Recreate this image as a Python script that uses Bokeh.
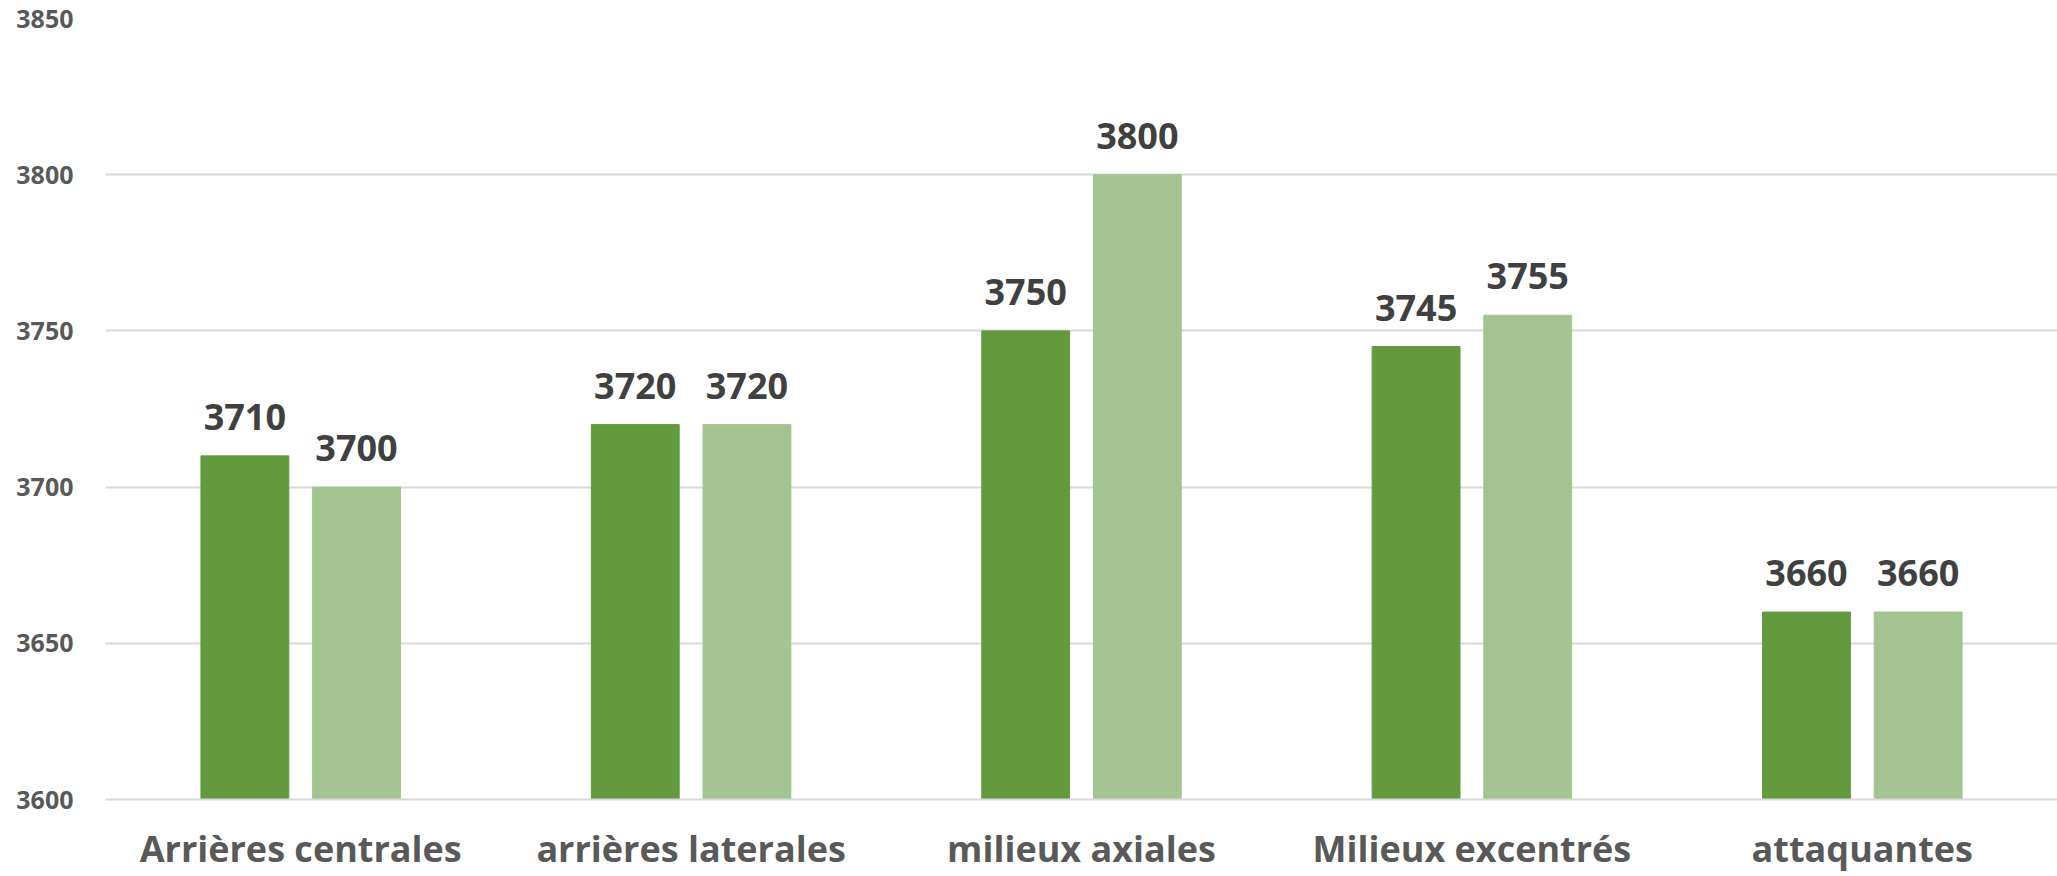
from bokeh.plotting import figure
from bokeh.models import ColumnDataSource, FactorRange, Range1d
from bokeh.transform import dodge
from bokeh.core.properties import value
from bokeh.embed import file_html
from bokeh.resources import INLINE

# Positions and the two series
categories = ["Arrières centrales", "arrières laterales", "milieux axiales",
              "Milieux excentrés", "attaquantes"]
series_a = [3710, 3720, 3750, 3745, 3660]
series_b = [3700, 3720, 3800, 3755, 3660]
y_ticks = [3600, 3650, 3700, 3750, 3800, 3850]

source = ColumnDataSource(data=dict(
    cat=categories,
    a=series_a,
    b=series_b,
    a_lbl=[str(v) for v in series_a],
    b_lbl=[str(v) for v in series_b],
))

DARK = "#639a3e"
LIGHT = "#a3c490"
FONT = "Open Sans"

p = figure(
    x_range=FactorRange(*categories, range_padding=0),
    y_range=Range1d(3600, 3850),
    width=2057, height=876,
    output_backend="svg", toolbar_location=None,
    min_border_left=105, min_border_right=0,
    min_border_top=18, min_border_bottom=77,
)
p.outline_line_color = None
p.background_fill_color = "white"
p.border_fill_color = "white"

bar_w = 0.225
off = 0.143
p.vbar(x=dodge("cat", -off, range=p.x_range), top="a", bottom=3600,
       width=bar_w, color=DARK, source=source)
p.vbar(x=dodge("cat", off, range=p.x_range), top="b", bottom=3600,
       width=bar_w, color=LIGHT, source=source)

label_style = dict(text_align="center", text_baseline="alphabetic",
                   y_offset=-39, text_font=value(FONT), text_font_style="bold",
                   text_font_size="36px", text_color="#404040", source=source)
p.text(x=dodge("cat", -off, range=p.x_range), y="a", text="a_lbl", **label_style)
p.text(x=dodge("cat", off, range=p.x_range), y="b", text="b_lbl", **label_style)

# Grid
p.xgrid.grid_line_color = None
p.ygrid.ticker = y_ticks
p.ygrid.grid_line_color = "#d9d9d9"
p.ygrid.grid_line_width = 2

# Y axis
p.yaxis.ticker = y_ticks
p.yaxis.axis_line_color = None
p.yaxis.major_tick_line_color = None
p.yaxis.minor_tick_line_color = None
p.yaxis.major_label_standoff = 26
p.yaxis.major_label_text_font = FONT
p.yaxis.major_label_text_font_style = "bold"
p.yaxis.major_label_text_font_size = "25px"
p.yaxis.major_label_text_color = "#595959"

# X axis
p.xaxis.axis_line_color = "#d9d9d9"
p.xaxis.axis_line_width = 2
p.xaxis.major_tick_line_color = None
p.xaxis.minor_tick_line_color = None
p.xaxis.major_label_standoff = 18
p.xaxis.major_label_text_font = FONT
p.xaxis.major_label_text_font_style = "bold"
p.xaxis.major_label_text_font_size = "36px"
p.xaxis.major_label_text_color = "#595959"

open("out.html", "w").write(file_html(p, INLINE))
